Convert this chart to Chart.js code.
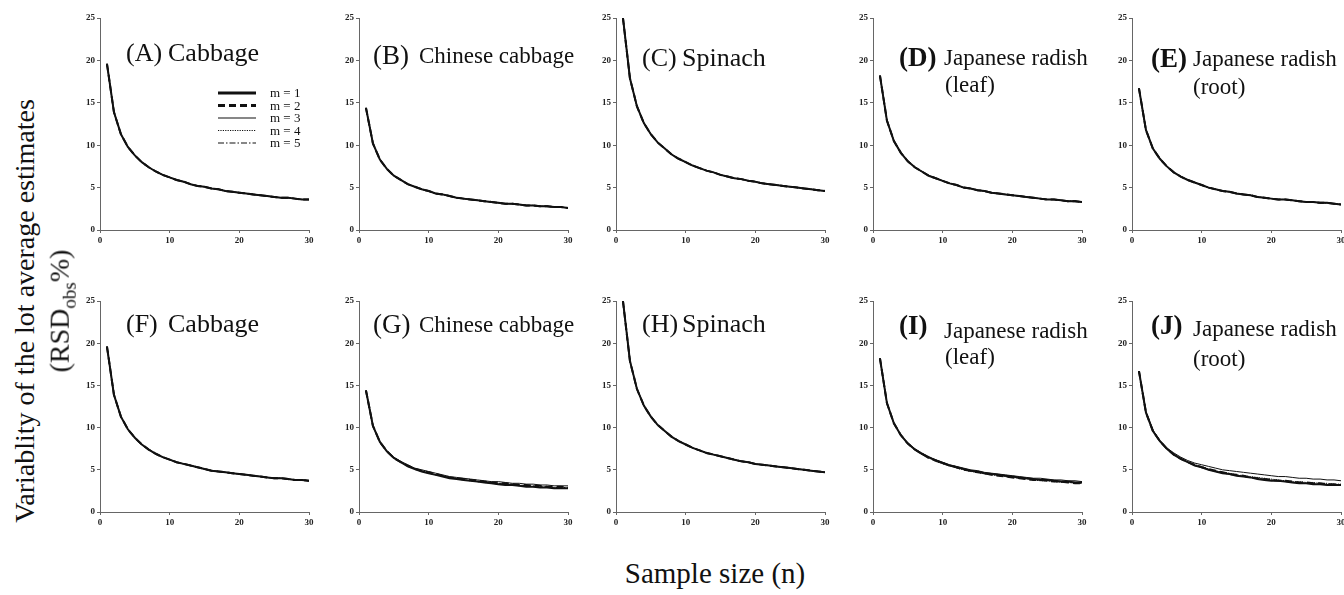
<!DOCTYPE html>
<html>
<head>
<meta charset="utf-8">
<script src="https://cdn.jsdelivr.net/npm/chart.js@4.4.0/dist/chart.umd.min.js"></script>
<style>
  body { margin: 0; background: #fff; width: 1344px; height: 595px; overflow: hidden; position: relative; font-family: 'Liberation Serif', 'Times New Roman', serif; color: #111; }
  .panel { position: absolute; }
  .txt { position: absolute; white-space: nowrap; line-height: 1; }
  .ytitle { position: absolute; white-space: nowrap; line-height: 1; transform: translate(-50%, -50%) rotate(-90deg); }
</style>
</head>
<body>

<script>
// sample size n
const sampleSizes = [1,2,3,4,5,6,7,8,9,10,11,12,13,14,15,16,17,18,19,20,21,22,23,24,25,26,27,28,29,30];
const xTicks = [0, 10, 20, 30];
const yTicks = [0, 5, 10, 15, 20, 25];
const seriesNames = ['m = 1', 'm = 2', 'm = 3', 'm = 4', 'm = 5'];

// top row (A-E): all m curves lie on top of each other
const cabbage = [19.6,13.9,11.3,9.8,8.8,8.0,7.4,6.9,6.5,6.2,5.9,5.7,5.4,5.2,5.1,4.9,4.8,4.6,4.5,4.4,4.3,4.2,4.1,4.0,3.9,3.8,3.8,3.7,3.6,3.6];
const chineseCabbage = [14.4,10.2,8.3,7.2,6.4,5.9,5.4,5.1,4.8,4.6,4.3,4.2,4.0,3.8,3.7,3.6,3.5,3.4,3.3,3.2,3.1,3.1,3.0,2.9,2.9,2.8,2.8,2.7,2.7,2.6];
const spinach = [25.0,17.9,14.6,12.6,11.3,10.3,9.6,8.9,8.4,8.0,7.6,7.3,7.0,6.8,6.5,6.3,6.1,6.0,5.8,5.7,5.5,5.4,5.3,5.2,5.1,5.0,4.9,4.8,4.7,4.6];
const radishLeaf = [18.2,12.9,10.5,9.1,8.1,7.4,6.9,6.4,6.1,5.8,5.5,5.3,5.0,4.9,4.7,4.6,4.4,4.3,4.2,4.1,4.0,3.9,3.8,3.7,3.6,3.6,3.5,3.4,3.4,3.3];
const radishRoot = [16.7,11.8,9.6,8.4,7.5,6.8,6.3,5.9,5.6,5.3,5.0,4.8,4.6,4.5,4.3,4.2,4.1,3.9,3.8,3.7,3.6,3.6,3.5,3.4,3.3,3.3,3.2,3.2,3.1,3.0];

// bottom row (F-J)
const cabbageF = [19.6,13.9,11.3,9.8,8.8,8.0,7.4,6.9,6.5,6.2,5.9,5.7,5.5,5.3,5.1,4.9,4.8,4.7,4.6,4.5,4.4,4.3,4.2,4.1,4.0,4.0,3.9,3.8,3.8,3.7];
const spinachH = [25.0,17.9,14.6,12.6,11.3,10.3,9.6,8.9,8.4,8.0,7.6,7.3,7.0,6.8,6.6,6.4,6.2,6.0,5.9,5.7,5.6,5.5,5.4,5.3,5.2,5.1,5.0,4.9,4.8,4.7];

const chineseG1 = [14.4,10.2,8.3,7.2,6.4,5.9,5.4,5.1,4.8,4.6,4.4,4.2,4.0,3.9,3.8,3.7,3.6,3.5,3.4,3.3,3.2,3.2,3.1,3.0,3.0,2.9,2.9,2.8,2.8,2.8];
const chineseG2 = [14.4,10.2,8.3,7.2,6.4,5.9,5.5,5.1,4.9,4.7,4.5,4.3,4.1,4.0,3.9,3.8,3.7,3.6,3.5,3.4,3.4,3.3,3.2,3.2,3.1,3.1,3.0,3.0,3.0,2.9];
const chineseG3 = [14.4,10.2,8.3,7.2,6.5,6.0,5.6,5.2,5.0,4.8,4.6,4.4,4.2,4.1,4.0,3.9,3.8,3.7,3.6,3.6,3.5,3.4,3.4,3.3,3.3,3.2,3.2,3.1,3.1,3.1];
const chineseG4 = [14.4,10.2,8.3,7.2,6.4,5.9,5.4,5.1,4.8,4.6,4.4,4.2,4.1,3.9,3.8,3.7,3.6,3.5,3.4,3.3,3.3,3.2,3.1,3.1,3.0,3.0,2.9,2.9,2.8,2.8];
const chineseG5 = [14.4,10.2,8.3,7.2,6.4,5.9,5.5,5.1,4.9,4.6,4.4,4.3,4.1,4.0,3.8,3.7,3.6,3.6,3.5,3.4,3.3,3.3,3.2,3.1,3.1,3.0,3.0,2.9,2.9,2.9];

const leafI1 = [18.2,12.9,10.5,9.1,8.1,7.4,6.9,6.5,6.1,5.8,5.5,5.3,5.1,4.9,4.8,4.6,4.5,4.4,4.3,4.2,4.1,4.0,3.9,3.8,3.8,3.7,3.6,3.6,3.5,3.5];
const leafI2 = [18.2,12.9,10.5,9.1,8.1,7.4,6.9,6.4,6.1,5.8,5.5,5.3,5.0,4.9,4.7,4.6,4.4,4.3,4.2,4.1,4.0,3.9,3.8,3.8,3.7,3.6,3.6,3.5,3.4,3.4];
const leafI3 = [18.2,12.9,10.5,9.1,8.2,7.5,7.0,6.5,6.2,5.9,5.6,5.4,5.2,5.0,4.9,4.7,4.6,4.5,4.4,4.3,4.2,4.1,4.0,4.0,3.9,3.8,3.8,3.7,3.7,3.6];
const leafI4 = [18.2,12.9,10.5,9.1,8.1,7.4,6.8,6.4,6.0,5.7,5.5,5.2,5.0,4.8,4.7,4.5,4.4,4.3,4.2,4.1,4.0,3.9,3.8,3.7,3.7,3.6,3.5,3.5,3.4,3.4];
const leafI5 = [18.2,12.9,10.5,9.1,8.1,7.4,6.9,6.5,6.1,5.8,5.5,5.3,5.1,4.9,4.7,4.6,4.5,4.4,4.2,4.1,4.0,4.0,3.9,3.8,3.7,3.7,3.6,3.5,3.5,3.5];

const rootJ1 = [16.7,11.8,9.6,8.4,7.5,6.8,6.3,5.9,5.5,5.3,5.0,4.8,4.6,4.5,4.3,4.2,4.1,3.9,3.8,3.7,3.7,3.6,3.5,3.4,3.4,3.3,3.3,3.2,3.2,3.2];
const rootJ2 = [16.7,11.8,9.6,8.4,7.5,6.8,6.3,5.9,5.6,5.3,5.1,4.9,4.7,4.5,4.4,4.3,4.1,4.0,3.9,3.8,3.7,3.7,3.6,3.5,3.5,3.4,3.4,3.3,3.3,3.2];
const rootJ3 = [16.7,11.9,9.7,8.5,7.6,7.0,6.5,6.1,5.8,5.6,5.4,5.2,5.0,4.9,4.8,4.7,4.6,4.5,4.4,4.3,4.2,4.2,4.1,4.0,4.0,3.9,3.9,3.8,3.8,3.7];
const rootJ4 = [16.7,11.8,9.7,8.4,7.5,6.9,6.4,6.0,5.6,5.4,5.1,4.9,4.7,4.6,4.4,4.3,4.2,4.1,4.0,3.9,3.8,3.7,3.6,3.6,3.5,3.5,3.4,3.4,3.3,3.3];
const rootJ5 = [16.7,11.8,9.6,8.4,7.5,6.8,6.3,5.9,5.5,5.3,5.0,4.8,4.6,4.5,4.3,4.2,4.1,4.0,3.9,3.8,3.7,3.6,3.5,3.5,3.4,3.4,3.3,3.3,3.2,3.2];

// line look for m = 1..5
const lineStyles = [
  { width: 2, dash: [] },
  { width: 2, dash: [7, 4] },
  { width: 1, dash: [] },
  { width: 1, dash: [1.2, 1.2] },
  { width: 1, dash: [6, 2, 1.5, 2] }
];
// legend swatches are drawn a bit heavier, as in the original key
const legendWidths = [3, 3, 1.2, 1, 1.2];

const panels = [
  { axisX: 100, top: 18, bottom: 230, series: [cabbage, cabbage, cabbage, cabbage, cabbage], legend: true },
  { axisX: 359, top: 18, bottom: 230, series: [chineseCabbage, chineseCabbage, chineseCabbage, chineseCabbage, chineseCabbage] },
  { axisX: 616, top: 18, bottom: 230, series: [spinach, spinach, spinach, spinach, spinach] },
  { axisX: 873, top: 18, bottom: 230, series: [radishLeaf, radishLeaf, radishLeaf, radishLeaf, radishLeaf] },
  { axisX: 1132, top: 18, bottom: 230, series: [radishRoot, radishRoot, radishRoot, radishRoot, radishRoot] },
  { axisX: 100, top: 301, bottom: 512, series: [cabbageF, cabbageF, cabbageF, cabbageF, cabbageF] },
  { axisX: 359, top: 301, bottom: 512, series: [chineseG1, chineseG2, chineseG3, chineseG4, chineseG5] },
  { axisX: 616, top: 301, bottom: 512, series: [spinachH, spinachH, spinachH, spinachH, spinachH] },
  { axisX: 873, top: 301, bottom: 512, series: [leafI1, leafI2, leafI3, leafI4, leafI5] },
  { axisX: 1132, top: 301, bottom: 512, series: [rootJ1, rootJ2, rootJ3, rootJ4, rootJ5] }
];

const PLOT_W = 209, Y_AXIS_W = 36, X_AXIS_H = 22, PAD_TOP = 10, PAD_RIGHT = 8;
const tickFont = { family: "'Liberation Serif', serif", size: 9, weight: 'bold' };

// little legend drawn inside panel A
const mLegend = {
  id: 'mLegend',
  afterDraw(chart, args, opts) {
    if (!opts.show) return;
    const ctx = chart.ctx;
    const area = chart.chartArea;
    const ordered = chart.data.datasets.slice().sort((a, b) => a.mIndex - b.mIndex);
    ctx.save();
    ordered.forEach((ds, i) => {
      const y = area.top + 75 + i * 12.5;
      ctx.beginPath();
      ctx.strokeStyle = ds.borderColor;
      ctx.lineWidth = legendWidths[ds.mIndex];
      ctx.setLineDash(ds.borderDash);
      ctx.moveTo(area.left + 118, y);
      ctx.lineTo(area.left + 156, y);
      ctx.stroke();
      ctx.setLineDash([]);
      ctx.fillStyle = '#111';
      ctx.font = "13px 'Liberation Serif', serif";
      ctx.textBaseline = 'middle';
      ctx.fillText(ds.label, area.left + 170, y + 1);
    });
    ctx.restore();
  }
};

panels.forEach(p => {
  const box = document.createElement('div');
  box.className = 'panel';
  const boxTop = p.top - PAD_TOP;
  box.style.left = (p.axisX - Y_AXIS_W) + 'px';
  box.style.top = boxTop + 'px';
  box.style.width = (Y_AXIS_W + PLOT_W + PAD_RIGHT) + 'px';
  box.style.height = (p.bottom - boxTop + X_AXIS_H) + 'px';
  const canvas = document.createElement('canvas');
  box.appendChild(canvas);
  document.body.appendChild(box);

  const datasets = p.series.map((vals, i) => ({
    label: seriesNames[i],
    mIndex: i,
    data: sampleSizes.map((n, k) => ({ x: n, y: vals[k] })),
    borderColor: '#111',
    borderWidth: lineStyles[i].width,
    borderDash: lineStyles[i].dash,
    pointRadius: 0,
    tension: 0,
    fill: false
  }));

  new Chart(canvas, {
    type: 'line',
    data: { datasets: datasets.reverse() },
    options: {
      responsive: true,
      maintainAspectRatio: false,
      animation: false,
      layout: { padding: { top: PAD_TOP, right: PAD_RIGHT, left: 0, bottom: 0 } },
      plugins: {
        legend: { display: false },
        tooltip: { enabled: false },
        mLegend: { show: !!p.legend }
      },
      scales: {
        x: {
          type: 'linear',
          min: 0, max: 30,
          afterFit: s => { s.height = X_AXIS_H; },
          afterBuildTicks: s => { s.ticks = xTicks.map(v => ({ value: v })); },
          grid: { drawOnChartArea: false, drawTicks: true, tickLength: 3, color: '#666' },
          border: { display: true, color: '#666', width: 1 },
          ticks: { color: '#222', font: tickFont, padding: 2, maxRotation: 0 }
        },
        y: {
          min: 0, max: 25,
          afterFit: s => { s.width = Y_AXIS_W; },
          afterBuildTicks: s => { s.ticks = yTicks.map(v => ({ value: v })); },
          grid: { drawOnChartArea: false, drawTicks: true, tickLength: 3, color: '#666' },
          border: { display: true, color: '#666', width: 1 },
          ticks: { color: '#222', font: tickFont, padding: 2 }
        }
      }
    },
    plugins: [mLegend]
  });
});

// panel titles
const titles = [
  { tag: '(A)', name: 'Cabbage', tagX: 126, nameX: 168, y: 54, tagSize: 26, nameSize: 26 },
  { tag: '(B)', name: 'Chinese cabbage', tagX: 373, nameX: 419, y: 57, tagSize: 27, nameSize: 23 },
  { tag: '(C)', name: 'Spinach', tagX: 642, nameX: 682, y: 59, tagSize: 26, nameSize: 26 },
  { tag: '(D)', name: 'Japanese radish', tagX: 899, nameX: 944, y: 59, tagSize: 27, nameSize: 23, bold: true, sub: '(leaf)', subX: 945, subY: 86 },
  { tag: '(E)', name: 'Japanese radish', tagX: 1151, nameX: 1193, y: 60, tagSize: 27, nameSize: 23, bold: true, sub: '(root)', subX: 1193, subY: 88 },
  { tag: '(F)', name: 'Cabbage', tagX: 126, nameX: 168, y: 325, tagSize: 26, nameSize: 26 },
  { tag: '(G)', name: 'Chinese cabbage', tagX: 373, nameX: 419, y: 326, tagSize: 27, nameSize: 23 },
  { tag: '(H)', name: 'Spinach', tagX: 642, nameX: 682, y: 325, tagSize: 26, nameSize: 26 },
  { tag: '(I)', name: 'Japanese radish', tagX: 899, nameX: 944, y: 327, nameY: 332, tagSize: 27, nameSize: 23, bold: true, sub: '(leaf)', subX: 945, subY: 358 },
  { tag: '(J)', name: 'Japanese radish', tagX: 1151, nameX: 1193, y: 327, nameY: 330, tagSize: 27, nameSize: 23, bold: true, sub: '(root)', subX: 1193, subY: 360 }
];

function addText(str, x, yMid, size, bold) {
  const d = document.createElement('div');
  d.className = 'txt';
  d.textContent = str;
  d.style.left = x + 'px';
  d.style.top = (yMid - size * 0.55) + 'px';
  d.style.fontSize = size + 'px';
  if (bold) d.style.fontWeight = 'bold';
  document.body.appendChild(d);
}

titles.forEach(t => {
  addText(t.tag, t.tagX, t.y, t.tagSize, t.bold);
  addText(t.name, t.nameX, t.nameY || t.y, t.nameSize, false);
  if (t.sub) addText(t.sub, t.subX, t.subY, t.nameSize, false);
});

// axis titles
const yTitle1 = document.createElement('div');
yTitle1.className = 'ytitle';
yTitle1.textContent = 'Variablity of the lot average estimates';
yTitle1.style.fontSize = '28px';
yTitle1.style.left = '25px';
yTitle1.style.top = '311px';
document.body.appendChild(yTitle1);

const yTitle2 = document.createElement('div');
yTitle2.className = 'ytitle';
yTitle2.innerHTML = '(RSD<sub style="font-size:19px">obs</sub>%)';
yTitle2.style.fontSize = '28px';
yTitle2.style.left = '62px';
yTitle2.style.top = '311px';
document.body.appendChild(yTitle2);

const xTitle = document.createElement('div');
xTitle.className = 'txt';
xTitle.textContent = 'Sample size (n)';
xTitle.style.fontSize = '29px';
xTitle.style.left = '715px';
xTitle.style.top = '559px';
xTitle.style.transform = 'translateX(-50%)';
document.body.appendChild(xTitle);
</script>
</body>
</html>
